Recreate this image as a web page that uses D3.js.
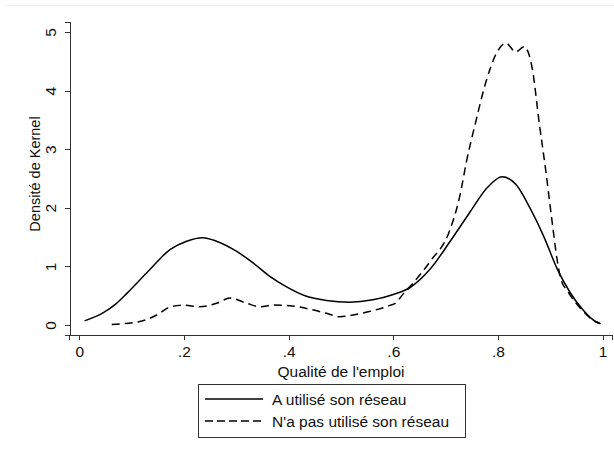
<!DOCTYPE html>
<meta charset="utf-8">
<style>
body { margin: 0; background: #fff; }
text { font-family: "Liberation Sans", Arial, sans-serif; fill: #111; }
.axis path, .axis line { stroke: #333; stroke-width: 1px; shape-rendering: crispEdges; }
.axis text { font-size: 15.5px; font-family: "Liberation Sans", Arial, sans-serif; fill: #111; }
.curve { fill: none; stroke: #000; stroke-width: 1.5px; }
</style>
<body>
<script src="https://d3js.org/d3.v7.min.js"></script>
<script>

var width = 614, height = 456;

// A utilisé son réseau
var usedX = [0.01, 0.046, 0.07, 0.091, 0.129, 0.174, 0.205, 0.236, 0.262, 0.30, 0.332, 0.364,
             0.396, 0.434, 0.472, 0.516, 0.561, 0.60, 0.632, 0.67, 0.708, 0.746, 0.78, 0.808,
             0.834, 0.862, 0.888, 0.912, 0.938, 0.963, 0.986, 0.995];
var usedY = [0.07, 0.21, 0.36, 0.54, 0.89, 1.29, 1.43, 1.49, 1.43, 1.26, 1.06, 0.83,
             0.65, 0.49, 0.42, 0.39, 0.43, 0.52, 0.64, 0.95, 1.42, 1.92, 2.35, 2.53,
             2.40, 1.98, 1.50, 0.98, 0.55, 0.25, 0.06, 0.03];

// N'a pas utilisé son réseau
var notUsedX = [0.062, 0.116, 0.148, 0.174, 0.199, 0.23, 0.262, 0.288, 0.32, 0.345, 0.371, 0.402,
                0.44, 0.472, 0.497, 0.523, 0.554, 0.592, 0.605, 0.617, 0.637, 0.67, 0.708, 0.727,
                0.74, 0.757, 0.777, 0.796, 0.815, 0.834, 0.85, 0.866, 0.878, 0.891, 0.903, 0.913,
                0.919, 0.935, 0.96, 0.98, 0.996];
var notUsedY = [0.01, 0.06, 0.17, 0.31, 0.34, 0.31, 0.37, 0.46, 0.37, 0.31, 0.34, 0.33,
                0.27, 0.20, 0.14, 0.17, 0.23, 0.33, 0.38, 0.51, 0.71, 1.08, 1.62, 2.2,
                2.8, 3.45, 4.15, 4.62, 4.81, 4.66, 4.75, 4.35, 3.5, 2.65, 1.79, 1.11,
                0.82, 0.55, 0.26, 0.09, 0.02];

var xTicks = [0, 0.2, 0.4, 0.6, 0.8, 1];
var yTicks = [0, 1, 2, 3, 4, 5];
var legendLabels = ["A utilisé son réseau", "N'a pas utilisé son réseau"];

var svg = d3.select("body").append("svg")
    .attr("width", width)
    .attr("height", height);

// faint frame line at top
svg.append("line")
    .attr("x1", 7).attr("x2", width).attr("y1", 5.5).attr("y2", 5.5)
    .style("stroke", "#eee");

var x = d3.scaleLinear().domain([-0.0191, 1.0178]).range([69.3, 612]);
var y = d3.scaleLinear().domain([-0.1706, 5.1706]).range([335, 22]);

var fmt = function(d) { return d === 0 ? "0" : d === 1 ? "1" : String(d).replace("0.", "."); };

var xAxis = svg.append("g")
    .attr("class", "axis")
    .attr("transform", "translate(0,334.5)")
    .call(d3.axisBottom(x).tickValues(xTicks).tickFormat(fmt).tickSizeOuter(0).tickSize(5).tickPadding(6));

var yAxis = svg.append("g")
    .attr("class", "axis")
    .attr("transform", "translate(69.5,0)")
    .call(d3.axisLeft(y).tickValues(yTicks).tickFormat(d3.format("d")).tickSizeOuter(0).tickSize(5));

// rotated y tick labels, Stata style
yAxis.selectAll(".tick text")
    .attr("x", null).attr("dy", null)
    .attr("text-anchor", "middle")
    .attr("transform", "translate(-14,0) rotate(-90)");

svg.append("text")
    .attr("transform", "translate(40,174) rotate(-90)")
    .attr("text-anchor", "middle")
    .style("font-size", "14.5px")
    .text("Densité de Kernel");

svg.append("text")
    .attr("x", x(0.5))
    .attr("y", 377)
    .attr("text-anchor", "middle")
    .style("font-size", "15.5px")
    .text("Qualité de l'emploi");

var line = d3.line()
    .x(function(d) { return x(d[0]); })
    .y(function(d) { return y(d[1]); })
    .curve(d3.curveMonotoneX);

var used = d3.zip(usedX, usedY);
var notUsed = d3.zip(notUsedX, notUsedY);

svg.append("path")
    .datum(used)
    .attr("class", "curve")
    .attr("d", line);

svg.append("path")
    .datum(notUsed)
    .attr("class", "curve")
    .style("stroke-dasharray", "8,5")
    .attr("d", line);

// legend
var lg = svg.append("g");
lg.append("rect")
    .attr("x", 198.5).attr("y", 384.5)
    .attr("width", 267).attr("height", 53)
    .style("fill", "#fff").style("stroke", "#333");

var item = lg.selectAll("g.item")
    .data(legendLabels)
    .enter().append("g")
    .attr("class", "item")
    .attr("transform", function(d, i) { return "translate(0," + (399 + i * 22) + ")"; });

item.append("line")
    .attr("x1", 205).attr("x2", 263)
    .style("stroke", "#000").style("stroke-width", 1.5)
    .style("stroke-dasharray", function(d, i) { return i ? "8,4" : null; });

item.append("text")
    .attr("x", 272).attr("y", 6)
    .style("font-size", "15.5px")
    .text(function(d) { return d; });

</script>
</body>
